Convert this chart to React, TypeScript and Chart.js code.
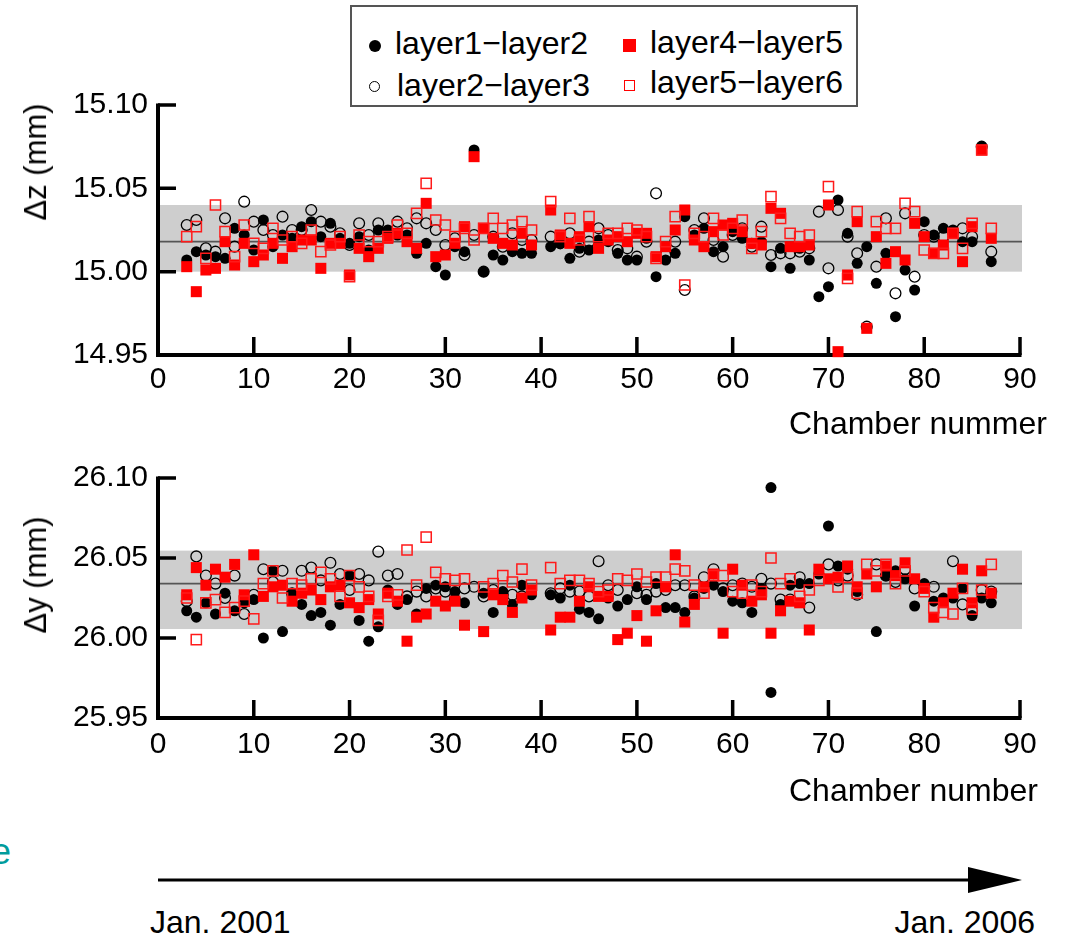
import React, { useEffect, useRef } from "react";
import { Chart, registerables } from "chart.js";

Chart.register(...registerables);

const FONT = '"Liberation Sans", Arial, Helvetica, sans-serif';

// Chamber numbers (no chamber 40)
const chambers = [
  3, 4, 5, 6, 7, 8, 9, 10, 11, 12, 13, 14, 15, 16, 17, 18, 19, 20, 21, 22,
  23, 24, 25, 26, 27, 28, 29, 30, 31, 32, 33, 34, 35, 36, 37, 38, 39,
  41, 42, 43, 44, 45, 46, 47, 48, 49, 50, 51, 52, 53, 54, 55, 56, 57, 58, 59, 60,
  61, 62, 63, 64, 65, 66, 67, 68, 69, 70, 71, 72, 73, 74, 75, 76, 77, 78, 79, 80,
  81, 82, 83, 84, 85, 86, 87,
];

// ---- Δz (mm) ----
const dzLayer12 = [
  15.007, 15.012, 15.010, 15.009, 15.008, 15.026, 15.022, 15.013, 15.031, 15.015, 15.022, 15.020, 15.027, 15.030, 15.021, 15.029, 15.020, 15.017, 15.021, 15.013,
  15.025, 15.025, 15.022, 15.022, 15.011, 15.017, 15.003, 14.998, 15.015, 15.012, 15.073, 15.000, 15.010, 15.007, 15.012, 15.011, 15.011,
  15.015, 15.017, 15.008, 15.014, 15.013, 15.019, 15.018, 15.011, 15.007, 15.007, 15.020, 14.997, 15.007, 15.011, 15.033, 15.022, 15.026, 15.012, 15.015, 15.024,
  15.020, 15.017, 15.018, 15.003, 15.014, 15.002, 15.014, 15.007, 14.985, 14.991, 15.043, 15.023, 15.005, 15.015, 14.993, 15.011, 14.973, 15.001, 14.989, 15.030,
  15.022, 15.026, 15.025, 15.018, 15.018, 15.075, 15.006,
];
const dzLayer23 = [
  15.028, 15.031, 15.014, 15.012, 15.032, 15.015, 15.042, 15.030, 15.025, 15.022, 15.033, 15.025, 15.025, 15.037, 15.030, 15.027, 15.023, 15.016, 15.029, 15.022,
  15.029, 15.022, 15.030, 15.026, 15.032, 15.029, 15.025, 15.016, 15.020, 15.010, 15.022, 15.000, 15.021, 15.015, 15.023, 15.019, 15.019,
  15.021, 15.017, 15.023, 15.012, 15.018, 15.026, 15.022, 15.013, 15.014, 15.009, 15.018, 15.047, 15.010, 15.018, 14.989, 15.025, 15.032, 15.019, 15.009, 15.022,
  15.026, 15.015, 15.027, 15.010, 15.011, 15.011, 15.012, 15.014, 15.036, 15.002, 15.037, 15.021, 15.011, 14.967, 15.003, 15.032, 14.987, 15.035, 14.997, 15.022,
  15.021, 15.021, 15.024, 15.026, 15.021, 15.075, 15.012,
];
const dzLayer45 = [
  15.003, 14.988, 15.001, 15.002, 15.018, 15.004, 15.017, 15.006, 15.010, 15.017, 15.008, 15.015, 15.019, 15.019, 15.002, 15.017, 15.017, 14.998, 15.014, 15.009,
  15.014, 15.020, 15.023, 15.018, 15.014, 15.041, 15.009, 15.010, 15.017, 15.027, 15.069, 15.026, 15.020, 15.017, 15.016, 15.023, 15.016,
  15.037, 15.022, 15.017, 15.021, 15.027, 15.014, 15.019, 15.021, 15.018, 15.023, 15.023, 15.009, 15.015, 15.025, 15.037, 15.019, 15.015, 15.024, 15.028, 15.029,
  15.024, 15.017, 15.016, 15.038, 15.035, 15.015, 15.015, 15.016, null, 15.040, 14.952, 14.998, 15.030, 14.966, 15.021, 15.005, 15.012, 15.007, 15.029, 15.021,
  15.011, 15.016, 15.023, 15.006, 15.027, 15.073, 15.020,
];
const dzLayer56 = [
  15.021, 15.027, 15.008, 15.040, 15.024, 15.009, 15.028, 15.017, 15.014, 15.026, 15.019, 15.021, 15.017, 15.025, 15.012, 15.016, 15.021, 14.997, 15.022, 15.018,
  15.018, 15.021, 15.028, 15.023, 15.035, 15.053, 15.031, 15.028, 15.021, 15.026, 15.019, 15.026, 15.032, 15.026, 15.028, 15.030, 15.025,
  15.042, 15.021, 15.032, 15.019, 15.033, 15.021, 15.023, 15.023, 15.026, 15.025, 15.021, 15.008, 15.018, 15.033, 14.992, 15.023, 15.021, 15.032, 15.022, 15.026,
  15.031, 15.014, 15.024, 15.045, 15.032, 15.023, 15.021, 15.022, null, 15.051, null, 14.996, 15.036, null, 15.030, 15.026, 15.026, 15.041, 15.036, 15.013,
  15.011, 15.011, 15.023, 15.014, 15.029, 15.073, 15.026,
];

// ---- Δy (mm) ----
const dyLayer12 = [
  26.017, 26.013, 26.022, 26.015, 26.028, 26.017, 26.022, 26.024, 26.000, 26.042, 26.004, 26.028, 26.021, 26.014, 26.016, 26.008, 26.021, 26.039, 26.011, 25.998,
  26.007, 26.030, 26.021, 26.024, 26.015, 26.031, 26.033, 26.032, 26.029, 26.022, null, 26.028, 26.016, 26.029, 26.021, 26.033, 26.027,
  26.027, 26.025, 26.033, 26.018, 26.016, 26.012, 26.025, 26.020, 26.024, 26.032, 26.024, 26.034, 26.019, 26.019, 26.016, 26.025, 26.031, 26.033, 26.029, 26.023,
  26.022, 26.016, 26.031, 26.094, 26.021, 26.033, 26.034, 26.034, 26.040, 26.070, 26.045, 26.043, 26.029, null, 26.004, 26.039, 26.042, 26.037, 26.020, 26.034,
  26.023, 26.025, 26.025, 26.031, 26.014, 26.025, 26.022,
];
const dyLayer12Extra = [{ chamber: 64, value: 25.966 }];
const dyLayer23 = [
  26.023, 26.051, 26.039, 26.034, 26.025, 26.039, 26.015, 26.027, 26.043, 26.035, 26.042, 26.028, 26.042, 26.044, 26.036, 26.047, 26.040, 26.030, 26.040, 26.036,
  26.054, 26.039, 26.040, 26.026, 26.029, 26.026, 26.031, 26.029, 26.024, 26.031, 26.032, 26.026, 26.030, 26.027, 26.027, 26.026, null,
  26.028, 26.031, 26.029, 26.029, 26.026, 26.048, 26.033, 26.030, null, 26.028, 26.027, 26.029, 26.030, 26.033, 26.033, 26.026, 26.038, 26.043, 26.031, 26.033,
  26.034, 26.032, 26.037, 26.034, 26.024, 26.024, 26.038, 26.019, null, 26.046, 26.036, 26.039, 26.027, null, 26.046, 26.039, 26.035, 26.043, 26.031, 26.032,
  26.032, null, 26.048, 26.021, 26.017, 26.030, 26.029,
];
const dyLayer45 = [
  26.027, 26.044, 26.033, 26.043, 26.038, 26.046, 26.027, 26.052, 26.026, 26.032, 26.033, 26.023, 26.028, 26.030, 26.024, 26.032, 26.033, 26.022, 26.019, 26.024,
  26.015, 26.028, 26.023, 25.998, 26.013, 26.015, 26.023, 26.020, 26.023, 26.008, null, 26.004, 26.027, 26.024, 26.016, 26.025, 26.030,
  26.005, 26.013, 26.013, 26.023, 26.032, 26.026, 26.026, 25.999, 26.003, 26.014, 25.998, 26.017, 26.032, 26.052, 26.010, 26.021, 26.032, 26.040, 26.003, 26.043,
  26.033, 26.023, 26.027, 26.003, 26.017, 26.023, 26.022, 26.005, 26.043, 26.037, 26.038, 26.045, 26.032, 26.040, 26.032, 26.045, 26.039, 26.047, 26.037, 26.031,
  26.013, 26.022, 26.028, 26.043, 26.022, 26.042, 26.028,
];
const dyLayer56 = [
  26.025, 25.999, 26.022, 26.024, 26.016, 26.019, 26.023, 26.012, 26.034, 26.042, 26.025, 26.034, 26.033, 26.037, 26.041, 26.037, 26.026, 26.039, 26.032, 26.026,
  26.011, 26.026, 26.027, 26.055, 26.033, 26.063, 26.041, 26.037, 26.036, 26.037, null, 26.032, 26.034, 26.039, 26.035, 26.043, 26.033,
  26.044, 26.034, 26.036, 26.036, 26.034, 26.029, 26.030, 26.037, 26.036, 26.040, 26.035, 26.038, 26.038, 26.043, 26.042, 26.033, 26.028, 26.039, 26.039, 26.029,
  26.028, 26.033, 26.029, 26.050, 26.034, 26.037, 26.026, 26.030, 26.036, null, 26.032, 26.038, 26.028, 26.046, 26.042, 26.046, 26.034, 26.042, null, 26.029,
  26.019, 26.016, 26.015, 26.031, 26.018, 26.030, 26.046,
];

const xTickValues = [0, 10, 20, 30, 40, 50, 60, 70, 80, 90];
const dzTickValues = [14.95, 15.0, 15.05, 15.1];
const dyTickValues = [25.95, 26.0, 26.05, 26.1];
const dzBand = [15.0, 15.04];
const dzMean = 15.018;
const dyBand = [26.0056, 26.0546];
const dyMean = 26.034;

const seriesLabels = ["layer1−layer2", "layer2−layer3", "layer4−layer5", "layer5−layer6"];

type Pt = { x: number; y: number };
function toPoints(vals: (number | null)[], extra: { chamber: number; value: number }[] = []): Pt[] {
  const pts: Pt[] = [];
  chambers.forEach((c, i) => {
    const v = vals[i];
    if (v !== null && v !== undefined) pts.push({ x: c, y: v });
  });
  extra.forEach((e) => pts.push({ x: e.chamber, y: e.value }));
  return pts;
}

const panelPlugin = {
  id: "panel",
  beforeDatasetsDraw(chart: any, _args: any, opts: any) {
    const { ctx, chartArea } = chart;
    const { left, right, top, bottom } = chartArea;
    const xs = chart.scales.x;
    const ys = chart.scales.y;
    ctx.save();
    // grey band
    const yHi = ys.getPixelForValue(opts.band[1]);
    const yLo = ys.getPixelForValue(opts.band[0]);
    ctx.fillStyle = "#cecece";
    ctx.fillRect(left + 2, yHi, right + 2 - (left + 2), yLo - yHi);
    // mean line
    const ym = ys.getPixelForValue(opts.mean);
    ctx.strokeStyle = "#555555";
    ctx.lineWidth = 1.8;
    ctx.beginPath();
    ctx.moveTo(left + 2, ym);
    ctx.lineTo(right + 2, ym);
    ctx.stroke();
    // axes
    ctx.strokeStyle = "#000";
    ctx.lineWidth = 4;
    ctx.lineCap = "butt";
    ctx.beginPath();
    ctx.moveTo(left, top - 1.5);
    ctx.lineTo(left, bottom + 2);
    ctx.moveTo(left - 2, bottom);
    ctx.lineTo(right + 1.5, bottom);
    ctx.stroke();
    // inward ticks
    ctx.lineWidth = 3.5;
    ctx.beginPath();
    ys.ticks.forEach((t: any) => {
      const p = ys.getPixelForValue(t.value);
      ctx.moveTo(left, p);
      ctx.lineTo(left + 18, p);
    });
    xs.ticks.forEach((t: any) => {
      const p = xs.getPixelForValue(t.value);
      ctx.moveTo(p, bottom);
      ctx.lineTo(p, bottom - 18);
    });
    ctx.stroke();
    ctx.restore();
  },
};

type PanelProps = {
  top: number;
  height: number;
  padTop: number;
  axisHeight: number;
  xLabelPad: number;
  yMin: number;
  yMax: number;
  yTicks: number[];
  series: Pt[][];
  band: number[];
  mean: number;
};

function Panel(p: PanelProps) {
  const ref = useRef<HTMLCanvasElement | null>(null);
  useEffect(() => {
    if (!ref.current) return;
    const styles = [
      { pointStyle: "circle", pointRadius: 5.5, bg: "#000000", border: "#000000", bw: 0, order: 4 },
      { pointStyle: "circle", pointRadius: 5.4, bg: "rgba(0,0,0,0)", border: "#000000", bw: 1.3, order: 3 },
      { pointStyle: "rect", pointRadius: 7.8, bg: "#ff0000", border: "#ff0000", bw: 0, order: 2 },
      { pointStyle: "rect", pointRadius: 7.2, bg: "rgba(0,0,0,0)", border: "#ff1a1a", bw: 1.5, order: 1 },
    ];
    const datasets = p.series.map((data, i) => ({
      label: seriesLabels[i],
      data,
      showLine: false,
      clip: false,
      order: styles[i].order,
      pointStyle: styles[i].pointStyle,
      pointRadius: styles[i].pointRadius,
      pointHoverRadius: styles[i].pointRadius,
      pointBackgroundColor: styles[i].bg,
      pointBorderColor: styles[i].border,
      pointBorderWidth: styles[i].bw,
      backgroundColor: styles[i].bg,
      borderColor: styles[i].border,
    }));
    const chart = new Chart(ref.current, {
      type: "scatter",
      data: { datasets } as any,
      options: {
        responsive: false,
        animation: false,
        devicePixelRatio: 1,
        events: [],
        layout: { padding: { left: 0, right: 51, top: p.padTop, bottom: 0 } },
        plugins: {
          legend: { display: false },
          tooltip: { enabled: false },
          panel: { band: p.band, mean: p.mean },
        } as any,
        scales: {
          x: {
            type: "linear",
            min: 0,
            max: 90,
            afterBuildTicks: (s: any) => {
              s.ticks = xTickValues.map((v) => ({ value: v }));
            },
            afterFit: (s: any) => {
              s.height = p.axisHeight;
            },
            grid: { display: false, drawTicks: false },
            border: { display: false },
            ticks: {
              color: "#000",
              font: { family: FONT, size: 30 },
              padding: p.xLabelPad,
              autoSkip: false,
              maxRotation: 0,
              callback: (v: any) => String(v),
            },
          },
          y: {
            type: "linear",
            min: p.yMin,
            max: p.yMax,
            afterBuildTicks: (s: any) => {
              s.ticks = p.yTicks.map((v) => ({ value: v }));
            },
            afterFit: (s: any) => {
              s.width = 158;
            },
            grid: { display: false, drawTicks: false },
            border: { display: false },
            ticks: {
              color: "#000",
              font: { family: FONT, size: 30 },
              padding: 10,
              callback: (v: any) => Number(v).toFixed(2),
            },
          },
        },
      } as any,
      plugins: [panelPlugin as any],
    });
    return () => chart.destroy();
  }, []);
  return (
    <canvas
      ref={ref}
      width={1071}
      height={p.height}
      style={{ position: "absolute", left: 0, top: p.top, width: 1071, height: p.height, display: "block" }}
    />
  );
}

const textBase: React.CSSProperties = {
  position: "absolute",
  fontFamily: FONT,
  fontSize: 32,
  lineHeight: "32px",
  color: "#000",
  whiteSpace: "nowrap",
};

function Legend() {
  const box: React.CSSProperties = {
    position: "absolute",
    left: 350,
    top: 5,
    width: 504,
    height: 98,
    border: "2px solid #555",
    background: "#fff",
  };
  return (
    <>
      <div style={box} />
      {/* markers */}
      <div style={{ position: "absolute", left: 375 - 6, top: 46 - 6, width: 12, height: 12, borderRadius: "50%", background: "#000" }} />
      <div style={{ position: "absolute", left: 374 - 5.5, top: 86 - 5.5, width: 9, height: 9, borderRadius: "50%", border: "1px solid #000" }} />
      <div style={{ position: "absolute", left: 629 - 6.5, top: 45 - 6.5, width: 13, height: 13, background: "#ff0000" }} />
      <div style={{ position: "absolute", left: 629 - 5.5, top: 85 - 5.5, width: 9, height: 9, border: "1px solid #ff0000" }} />
      <div style={{ ...textBase, left: 395, top: 27 }}>{seriesLabels[0]}</div>
      <div style={{ ...textBase, left: 397, top: 69 }}>{seriesLabels[1]}</div>
      <div style={{ ...textBase, left: 650, top: 26 }}>{seriesLabels[2]}</div>
      <div style={{ ...textBase, left: 650, top: 66 }}>{seriesLabels[3]}</div>
    </>
  );
}

function YTitle({ text, cx, cy }: { text: string; cx: number; cy: number }) {
  return (
    <div
      style={{
        ...textBase,
        fontSize: 31,
        lineHeight: "36px",
        left: cx,
        top: cy,
        transform: "translate(-50%, -50%) rotate(-90deg)",
      }}
    >
      {text}
    </div>
  );
}

export default function App() {
  const dzSeries = [toPoints(dzLayer12), toPoints(dzLayer23), toPoints(dzLayer45), toPoints(dzLayer56)];
  const dySeries = [toPoints(dyLayer12, dyLayer12Extra), toPoints(dyLayer23), toPoints(dyLayer45), toPoints(dyLayer56)];
  return (
    <div style={{ position: "absolute", left: 0, top: 0, width: 1071, height: 938, overflow: "hidden", background: "#fff" }}>
      <Panel
        top={0}
        height={440}
        padTop={105}
        axisHeight={85}
        xLabelPad={7}
        yMin={14.95}
        yMax={15.1}
        yTicks={dzTickValues}
        series={dzSeries}
        band={dzBand}
        mean={dzMean}
      />
      <Panel
        top={450}
        height={370}
        padTop={20}
        axisHeight={102}
        xLabelPad={9}
        yMin={25.95}
        yMax={26.1}
        yTicks={dyTickValues}
        series={dySeries}
        band={dyBand}
        mean={dyMean}
      />
      <Legend />
      <YTitle text="Δz (mm)" cx={36} cy={162} />
      <YTitle text="Δy (mm)" cx={36} cy={575} />
      <div style={{ ...textBase, left: 789, top: 407 }}>Chamber nummer</div>
      <div style={{ ...textBase, left: 789, top: 774 }}>Chamber number</div>
      <div style={{ ...textBase, left: -9, top: 834, fontSize: 36, lineHeight: "36px", color: "#009c9c" }}>e</div>
      <svg style={{ position: "absolute", left: 0, top: 860 }} width={1071} height={40}>
        <line x1={158} y1={20} x2={975} y2={20} stroke="#000" strokeWidth={3} />
        <polygon points="968,7 1022,20 968,33" fill="#000" />
      </svg>
      <div style={{ ...textBase, left: 150, top: 906 }}>Jan. 2001</div>
      <div style={{ ...textBase, right: 36, top: 906 }}>Jan. 2006</div>
    </div>
  );
}
